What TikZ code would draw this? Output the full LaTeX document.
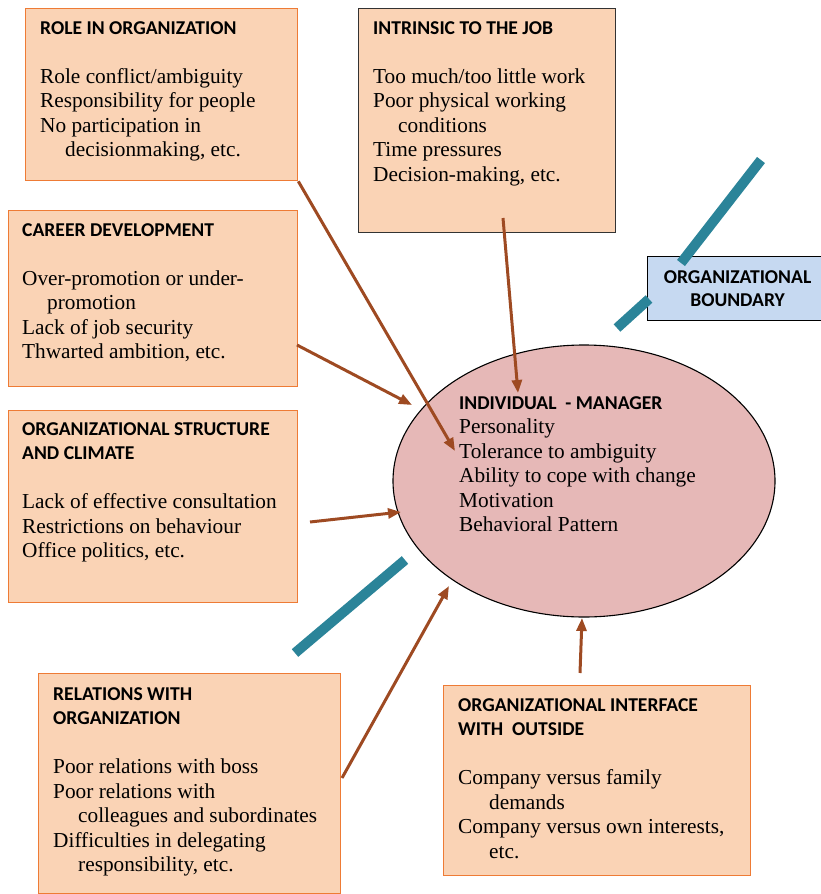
\documentclass[tikz,border=0pt]{standalone}
\usepackage{fontspec}
\setmainfont{Liberation Serif}
\newfontfamily\headfont{Carlito}
\usetikzlibrary{arrows.meta,positioning,shapes.geometric}

\definecolor{boxfill}{HTML}{FAD3B5}
\definecolor{boxline}{HTML}{EE7B35}
\definecolor{causebrown}{HTML}{9E4A22}
\definecolor{borderteal}{HTML}{2B8499}
\definecolor{managerpink}{HTML}{E6B8B7}
\definecolor{boundaryblue}{HTML}{C6D9F1}

\newcommand{\bodyfont}{\fontsize{21.3}{24.5}\selectfont}
\newcommand{\head}{\headfont\bfseries\fontsize{19.6}{24.5}\selectfont}
\newcommand{\ind}{\hspace*{25pt}}

\tikzset{
  stressbox/.style={draw=boxline, fill=boxfill, line width=1.3pt, anchor=north west, inner sep=0pt},
  boxtext/.style={anchor=north west, align=left, inner sep=0pt, font=\bodyfont},
  cause/.style={draw=causebrown, line width=3pt, -{Triangle[length=13pt,width=10pt]}},
  orgline/.style={draw=borderteal, line width=10pt}
}

\begin{document}
\begin{tikzpicture}[x=1pt, y=-1pt]
\useasboundingbox (0,0) rectangle (820,894);

%boxes
\node[stressbox, minimum width=272, minimum height=172] (role) at (25,8) {};
\node[stressbox, draw=black!80, minimum width=257, minimum height=224] (intrinsic) at (358,8) {};
\node[stressbox, minimum width=289, minimum height=176] (career) at (8,210) {};
\node[stressbox, minimum width=289, minimum height=192] (structure) at (8,410) {};
\node[stressbox, minimum width=302, minimum height=220] (relations) at (38,673) {};
\node[stressbox, minimum width=307, minimum height=190] (interface) at (443,685) {};

\node[draw, ellipse, fill=managerpink, line width=1.1pt, minimum width=382, minimum height=272] (manager) at (584,481) {};

\node[draw, fill=boundaryblue, line width=1.1pt, anchor=north west, minimum width=180, minimum height=64,
      align=center, inner sep=0pt, font=\head, text depth=0pt] (boundary) at (647,256)
      {ORGANIZATIONAL\\[-1.5pt]BOUNDARY};

%texts
\node[boxtext] (roletext) at (40,21) {{\head ROLE IN ORGANIZATION}\\[24.5pt]
  Role conflict/ambiguity\\
  Responsibility for people\\
  No participation in\\
  \ind decisionmaking, etc.};
\node[boxtext] (intrinsictext) at (373,21) {{\head INTRINSIC TO THE JOB}\\[24.5pt]
  Too much/too little work\\
  Poor physical working\\
  \ind conditions\\
  Time pressures\\
  Decision-making, etc.};
\node[boxtext] (careertext) at (22,223) {{\head CAREER DEVELOPMENT}\\[24.5pt]
  Over-promotion or under-\\
  \ind promotion\\
  Lack of job security\\
  Thwarted ambition, etc.};
\node[boxtext] (structuretext) at (22,422) {{\head ORGANIZATIONAL STRUCTURE}\\
  {\head AND CLIMATE}\\[24.5pt]
  Lack of effective consultation\\
  Restrictions on behaviour\\
  Office politics, etc.};
\node[boxtext] (relationstext) at (53,687) {{\head RELATIONS WITH}\\
  {\head ORGANIZATION}\\[24.5pt]
  Poor relations with boss\\
  Poor relations with\\
  \ind colleagues and subordinates\\
  Difficulties in delegating\\
  \ind responsibility, etc.};
\node[boxtext] (interfacetext) at (458,698) {{\head ORGANIZATIONAL INTERFACE}\\
  {\head WITH\ \ OUTSIDE}\\[24.5pt]
  Company versus family\\
  \hspace*{31pt}demands\\
  Company versus own interests,\\
  \hspace*{31pt}etc.};
\node[boxtext] (managertext) at (459,396) {{\head INDIVIDUAL\ \ - MANAGER}\\
  Personality\\
  Tolerance to ambiguity\\
  Ability to cope with change\\
  Motivation\\
  Behavioral Pattern};

%organizational boundary
\coordinate (bound1) at (761,160);
\coordinate (bound2) at (681,263);
\coordinate (bound3) at (649,299);
\coordinate (bound4) at (617,328);
\coordinate (bound5) at (405,560);
\coordinate (bound6) at (295,653);
\draw[orgline] (bound1) -- (bound2);
\draw[orgline] (bound3) -- (bound4);
\draw[orgline] (bound5) -- (bound6);

%stress arrows
\coordinate (intrinsicfoot) at (503,218);
\coordinate (careerfoot) at (297,345);
\coordinate (structurefoot) at (310,522);
\coordinate (relationsfoot) at (342,778);
\coordinate (interfacefoot) at (580,673);
\coordinate (roletip) at (455,451);
\coordinate (intrinsictip) at (518,393);
\coordinate (careertip) at (412,405);
\coordinate (structuretip) at (401,512);
\coordinate (relationstip) at (449,586);
\coordinate (interfacetip) at (582,618);

\draw[cause] (role.south east) -- (roletip);
\draw[cause] (intrinsicfoot) -- (intrinsictip);
\draw[cause] (careerfoot) -- (careertip);
\draw[cause] (structurefoot) -- (structuretip);
\draw[cause] (relationsfoot) -- (relationstip);
\draw[cause] (interfacefoot) -- (interfacetip);
\end{tikzpicture}
\end{document}
